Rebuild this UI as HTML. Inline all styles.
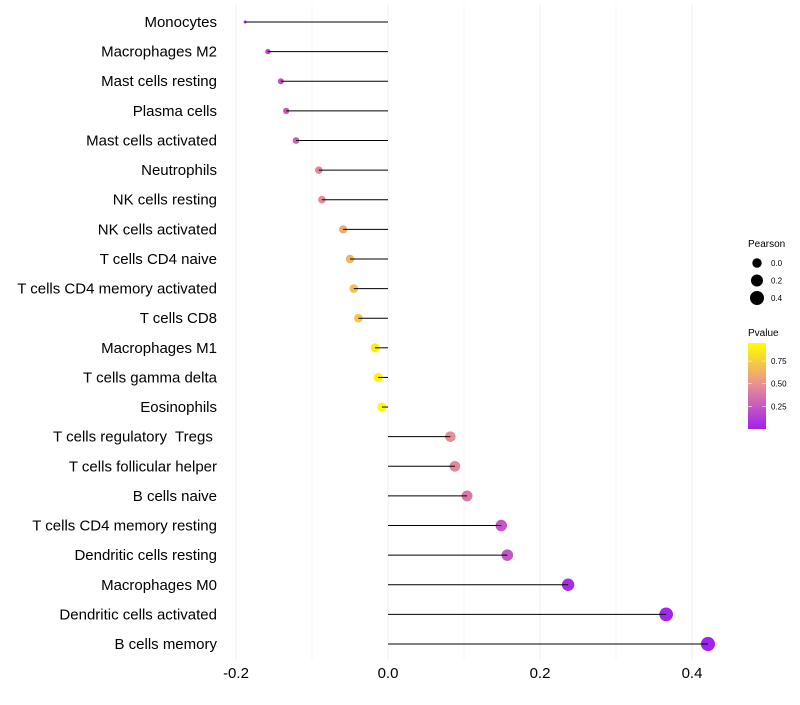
<!DOCTYPE html>
<html><head><meta charset="utf-8"><style>
body{margin:0;background:#fff;font-family:"Liberation Sans",sans-serif}
</style></head><body>
<svg id="c" width="800" height="700" xmlns="http://www.w3.org/2000/svg"></svg>
<script>
const categories=["Monocytes","Macrophages M2","Mast cells resting","Plasma cells","Mast cells activated","Neutrophils","NK cells resting","NK cells activated","T cells CD4 naive","T cells CD4 memory activated","T cells CD8","Macrophages M1","T cells gamma delta","Eosinophils","T cells regulatory  Tregs ","T cells follicular helper","B cells naive","T cells CD4 memory resting","Dendritic cells resting","Macrophages M0","Dendritic cells activated","B cells memory"];
const pearson=[-0.188,-0.158,-0.141,-0.134,-0.121,-0.091,-0.087,-0.059,-0.050,-0.045,-0.039,-0.017,-0.013,-0.008,0.082,0.088,0.104,0.149,0.157,0.237,0.366,0.421];
const pvalue=[0.06,0.17,0.22,0.25,0.28,0.45,0.47,0.6,0.65,0.7,0.72,0.87,0.9,0.93,0.48,0.45,0.38,0.24,0.24,0.05,0.02,0.01];
const xTicks=[-0.2,0,0.2,0.4];
const xTickLabels=["-0.2","0.0","0.2","0.4"];
const minorTicks=[-0.1,0.1,0.3];
const sizeLegend=[0.0,0.2,0.4];
const colorTicks=[0.25,0.5,0.75];

const svg=document.getElementById('c');
const NS="http://www.w3.org/2000/svg";
function mk(t,a,parent){const e=document.createElementNS(NS,t);for(const k in a)e.setAttribute(k,a[k]);(parent||svg).appendChild(e);return e;}
const x=v=>388+v*760;
const y=i=>22+i*(622/21);
const pMin=Math.min(...pearson),pMax=Math.max(...pearson);
const rad=v=>{const t=(v-pMin)/(pMax-pMin);return Math.sqrt(2.2+(50-2.2)*Math.pow(t,0.75));};
const stops=[[0,[160,32,240]],[0.5,[232,140,150]],[1,[255,255,0]]];
const pMinC=0.0,pMaxC=0.95;
function col(p){let t=Math.max(0,Math.min(1,(p-pMinC)/(pMaxC-pMinC)));for(let k=0;k<stops.length-1;k++){const[a,ca]=stops[k],[b,cb]=stops[k+1];if(t<=b){const u=(t-a)/(b-a);return `rgb(${ca.map((c,j)=>Math.round(c+(cb[j]-c)*u)).join(',')})`;}}return 'rgb(255,255,0)';}

minorTicks.forEach(v=>{const l=mk('line',{x1:x(v),x2:x(v),y1:5,y2:660,stroke:'#f4f4f4','stroke-width':1});

});
xTicks.forEach((v,i)=>{const l=mk('line',{x1:x(v),x2:x(v),y1:5,y2:660,stroke:'#ededed','stroke-width':1});


const t=mk('text',{x:x(v),y:678,'text-anchor':'middle','font-size':15,fill:'#000'});t.textContent=xTickLabels[i];

});

categories.forEach((c,i)=>{
const t=mk('text',{x:217,y:y(i)+5,'text-anchor':'end','font-size':15,fill:'#000',style:'white-space:pre'});t.textContent=c;


const p=mk('circle',{cx:x(pearson[i]),cy:y(i),r:rad(pearson[i]),fill:col(pvalue[i])});


const s=mk('line',{x1:x(0),x2:x(pearson[i]),y1:y(i),y2:y(i),stroke:'#000','stroke-width':1});


});

const lt=mk('text',{x:748,y:247,'font-size':10});lt.textContent='Pearson';


sizeLegend.forEach((v,i)=>{const cy=263+i*17.5;
const c=mk('circle',{cx:757,cy:cy,r:rad(v),fill:'#000'});


const t=mk('text',{x:771,y:cy+3,'font-size':8});t.textContent=v.toFixed(1);

});
const ct=mk('text',{x:748,y:336,'font-size':10});ct.textContent='Pvalue';


const defs=mk('defs',{});const g=mk('linearGradient',{id:'gr',x1:0,y1:1,x2:0,y2:0},defs);
stops.forEach(([o,c])=>mk('stop',{offset:o,'stop-color':`rgb(${c.join(',')})`},g));
const barTop=343,barBot=429;
const bar=mk('rect',{x:748,y:barTop,width:18,height:barBot-barTop,fill:'url(#gr)'});


const cy=p=>barBot-(p-pMinC)/(pMaxC-pMinC)*(barBot-barTop);
colorTicks.forEach(v=>{
mk('line',{x1:748,x2:752,y1:cy(v),y2:cy(v),stroke:'#fff','stroke-width':0.6});
mk('line',{x1:762,x2:766,y1:cy(v),y2:cy(v),stroke:'#fff','stroke-width':0.6});
const t=mk('text',{x:771,y:cy(v)+3,'font-size':8});t.textContent=v.toFixed(2);

});
</script>
</body></html>
